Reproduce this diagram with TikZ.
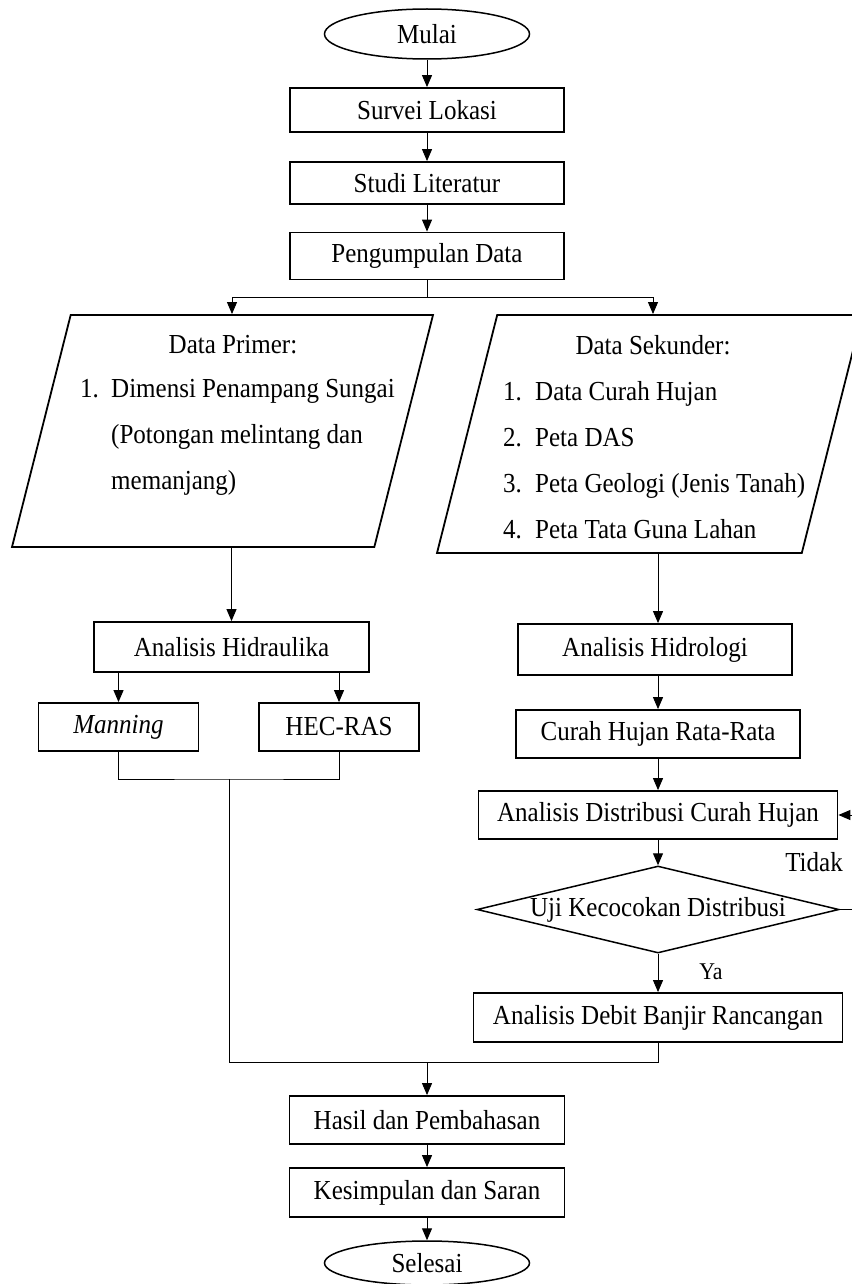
\documentclass[tikz,border=0pt]{standalone}
\usepackage{fontspec}
\setmainfont{Liberation Serif}[FakeStretch=0.91]
\usetikzlibrary{shapes.geometric,arrows.meta}

\begin{document}
\begin{tikzpicture}[
    x=1pt, y=-1pt,
    font=\fontsize{27.5}{32}\selectfont,
    box/.style={
        draw, line width=1.8pt, rectangle, inner sep=0pt,
        minimum width=274pt, minimum height=48pt,
    },
    terminal/.style={
        draw, line width=1.5pt, ellipse, inner sep=0pt,
        minimum width=205pt, minimum height=50pt,
    },
    data/.style={
        draw, line width=1.8pt, trapezium, inner sep=0pt,
        trapezium left angle=75.8, trapezium right angle=104.2,
        trapezium stretches body=true, text width=0pt, text depth=0pt,
    },
    decision/.style={
        draw, line width=1.5pt, diamond, inner sep=0pt, aspect=4.2,
        minimum width=362pt, minimum height=87pt,
    },
    flow/.style={
        draw, line width=1pt, -{Triangle[length=12pt,width=10pt]},
    },
    garis/.style={
        draw, line width=1pt,
    },
    teks/.style={inner sep=0pt},
    daftar/.style={
        inner sep=0pt, align=left, anchor=west,
        font=\fontsize{27.5}{46}\selectfont,
    },
    ]
    \useasboundingbox (0,0) rectangle (851,1284);

    \node [terminal, name=mulai, at={(427,34)}] {Mulai};
    \node [box, name=survei, at={(427,110)}, minimum height=44pt] {Survei Lokasi};
    \node [box, name=studi, at={(427,183)}, minimum height=42pt] {Studi Literatur};
    \node [box, name=kumpul, at={(427,256)}, minimum height=47pt] {Pengumpulan Data};

    % data primer dan sekunder
    \node [data, name=primer, at={(222.5,431)},
        minimum width=421pt, text height=232pt] {};
    \node [teks, name=primer-judul, at={(233,345)}] {Data Primer:};
    \node [daftar, name=primer-isi, at={(80,437)}]
        {\makebox[31pt][l]{1.}Dimensi Penampang Sungai\\
         \hspace*{31pt}(Potongan melintang dan\\
         \hspace*{31pt}memanjang)};
    \node [data, name=sekunder, at={(649.5,434)},
        minimum width=425pt, text height=238pt] {};
    \node [teks, name=sekunder-judul, at={(653,345)}] {Data Sekunder:};
    \node [daftar, name=sekunder-isi, at={(503,460)}]
        {\makebox[32pt][l]{1.}Data Curah Hujan\\
         \makebox[32pt][l]{2.}Peta DAS\\
         \makebox[32pt][l]{3.}Peta Geologi (Jenis Tanah)\\
         \makebox[32pt][l]{4.}Peta Tata Guna Lahan};

    % cabang kiri
    \node [box, name=hidraulika, at={(231.5,647)}, minimum width=275pt,
        minimum height=50pt] {Analisis Hidraulika};
    \node [box, name=manning, at={(118.5,727)}, minimum width=160pt] {\textit{Manning}};
    \node [box, name=hecras, at={(339,727)}, minimum width=160pt] {HEC-RAS};

    % cabang kanan
    \node [box, name=hidrologi, at={(655,649.5)}, minimum height=51pt] {Analisis Hidrologi};
    \node [box, name=rerata, at={(658,734)}, minimum width=284pt] {Curah Hujan Rata-Rata};
    \node [box, name=distribusi, at={(658,815)}, minimum width=359pt]
        {Analisis Distribusi Curah Hujan};
    \node [decision, name=uji, at={(658,909.5)}] {Uji Kecocokan Distribusi};
    \node [box, name=debit, at={(658,1017.5)}, minimum width=369pt,
        minimum height=49pt] {Analisis Debit Banjir Rancangan};
    \node [teks, name=tidak, at={(814,862)}] {Tidak};
    \node [teks, name=ya, at={(711,972)}, font=\fontsize{24}{28}\selectfont] {Ya};

    \node [box, name=hasil, at={(427,1120)}, minimum width=275pt] {Hasil dan Pembahasan};
    \node [box, name=kesimpulan, at={(427,1192.5)}, minimum width=275pt,
        minimum height=49pt] {Kesimpulan dan Saran};
    \node [terminal, name=selesai, at={(427,1263)}, minimum height=44pt] {Selesai};

    \coordinate (cabang) at (427,297);
    \coordinate (gabung) at (229,779);
    \coordinate (temu) at (229,1062);

    \draw [flow] (mulai.south) -- (survei.north);
    \draw [flow] (survei.south) -- (studi.north);
    \draw [flow] (studi.south) -- (kumpul.north);
    \draw [garis] (kumpul.south) -- (cabang);
    \draw [flow] (cabang) -| ([xshift=9.5pt]primer.north);
    \draw [flow] (cabang) -| ([xshift=3.5pt]sekunder.north);
    \draw [flow] (primer.south -| hidraulika.north) -- (hidraulika.north);
    \draw [flow] (sekunder.south -| rerata.north) -- (hidrologi.north -| rerata.north);
    \draw [flow] (hidraulika.south -| manning.north) -- (manning.north);
    \draw [flow] (hidraulika.south -| hecras.north) -- (hecras.north);
    \draw [garis] (manning.south) |- (gabung) -| (hecras.south);
    \draw [flow] (hidrologi.south -| rerata.north) -- (rerata.north);
    \draw [flow] (rerata.south) -- (distribusi.north);
    \draw [flow] (distribusi.south) -- (uji.north);
    \draw [flow] (uji.south) -- (debit.north);
    \draw [flow] (uji.east) -- ++(25,0) |- (distribusi.east);
    \draw [garis] (gabung) -- (temu) -| (debit.south);
    \draw [flow] (temu -| hasil.north) -- (hasil.north);
    \draw [flow] (hasil.south) -- (kesimpulan.north);
    \draw [flow] (kesimpulan.south) -- (selesai.north);
\end{tikzpicture}
\end{document}
